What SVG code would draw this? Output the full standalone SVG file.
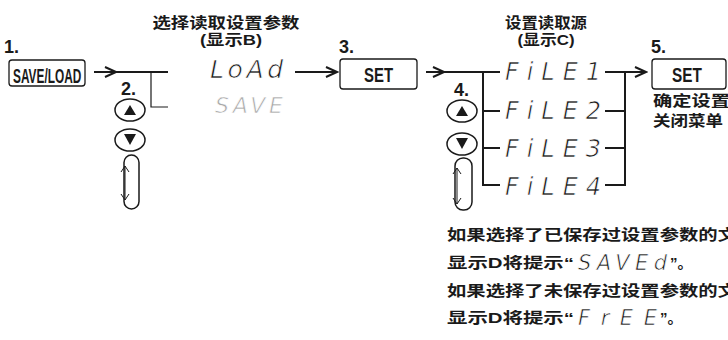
<svg xmlns="http://www.w3.org/2000/svg" width="728" height="340" viewBox="0 0 728 340">
<defs>
<style>
.num{font-family:"Liberation Sans",Arial,sans-serif;font-weight:bold;font-size:18px;fill:#1a1a1a}
.cjk{font-family:"Liberation Sans","Noto Sans CJK SC",sans-serif;font-weight:bold;font-size:15px;fill:#1a1a1a}
.key{font-family:"Liberation Sans",Arial,sans-serif;font-weight:bold;font-size:21px;fill:#1a1a1a}
.seg{font-family:"DejaVu Sans",sans-serif;font-weight:200;font-style:italic;fill:#1a1a1a;stroke:#fff;stroke-width:0.7}
.segg{font-family:"DejaVu Sans",sans-serif;font-weight:200;font-style:italic;fill:#a8a8a8;stroke:#fff;stroke-width:0.7}
.box{fill:#fff;stroke:#1a1a1a;stroke-width:1.3}
.btn{fill:#fff;stroke:#1a1a1a;stroke-width:1.5}
.tri{fill:#1a1a1a}
.thick{fill:none;stroke:#1a1a1a;stroke-width:2}
.thin{fill:none;stroke:#1a1a1a;stroke-width:1.2}
.dbl{fill:none;stroke:#1a1a1a;stroke-width:1}
</style>
<marker id="ah" markerWidth="14" markerHeight="12" refX="12" refY="6" orient="auto" markerUnits="userSpaceOnUse">
<path d="M1,1 L12,6 L1,11" fill="none" stroke="#1a1a1a" stroke-width="2"/>
</marker>
</defs>
<rect width="728" height="340" fill="#fff"/>

<g id="connectors">
<line x1="94" y1="72" x2="116" y2="72" class="thick" marker-end="url(#ah)"/>
<line x1="115" y1="72" x2="168" y2="72" class="thick"/>
<polyline points="151,72 151,107 168,107" class="thin"/>
<line x1="295" y1="72" x2="337" y2="72" class="thick" marker-end="url(#ah)"/>
<line x1="426" y1="72" x2="444" y2="72" class="thick" marker-end="url(#ah)"/>
<line x1="443" y1="72" x2="500" y2="72" class="thick"/>
<line x1="483" y1="72" x2="483" y2="186" class="thick"/>
<line x1="482" y1="111" x2="500" y2="111" class="thick"/>
<line x1="482" y1="148" x2="500" y2="148" class="thick"/>
<line x1="482" y1="185" x2="500" y2="185" class="thick"/>
<line x1="605" y1="72" x2="626" y2="72" class="thick"/>
<line x1="605" y1="111" x2="626" y2="111" class="thick"/>
<line x1="605" y1="148" x2="626" y2="148" class="thick"/>
<line x1="605" y1="185" x2="626" y2="185" class="thick"/>
<line x1="625" y1="71" x2="625" y2="186" class="thick"/>
<line x1="624" y1="72" x2="646" y2="72" class="thick" marker-end="url(#ah)"/>
</g>

<g id="step1">
<text x="4" y="53" class="num">1.</text>
<rect x="9" y="60" width="76" height="26" rx="3" class="box"/>
<text transform="translate(13,83) scale(0.565,1)" class="key">SAVE/LOAD</text>
</g>

<g id="step2">
<text x="121" y="95" class="num">2.</text>
<ellipse cx="130" cy="110" rx="15" ry="11" class="btn"/>
<polygon points="124,115 136,115 130,105" class="tri"/>
<ellipse cx="130" cy="140" rx="15" ry="11" class="btn"/>
<polygon points="124,134 136,134 130,145" class="tri"/>
<rect x="124" y="155" width="15" height="54" rx="7.5" class="btn"/>
<line x1="125" y1="166" x2="125" y2="200" class="dbl"/>
<polyline points="121,172 125,166 129,172" class="dbl"/>
<polyline points="121,194 125,200 129,194" class="dbl"/>
</g>

<g id="titleB">
<text x="226" y="28" class="cjk" text-anchor="middle" textLength="147" lengthAdjust="spacingAndGlyphs">选择读取设置参数</text>
<text x="231" y="45" class="cjk" text-anchor="middle" textLength="62" lengthAdjust="spacingAndGlyphs">(显示B)</text>
</g>

<g id="displayB">
<text x="210" y="78" class="seg" font-size="25" textLength="73" lengthAdjust="spacing">LoAd</text>
<text x="215" y="113" class="segg" font-size="22" textLength="68" lengthAdjust="spacing">SAVE</text>
</g>

<g id="step3">
<text x="339" y="53" class="num">3.</text>
<rect x="340" y="59" width="77" height="30" rx="3" class="box"/>
<text transform="translate(378.5,82) scale(0.71,1)" class="key" text-anchor="middle">SET</text>
</g>

<g id="titleC">
<text x="546" y="28" class="cjk" text-anchor="middle" textLength="82" lengthAdjust="spacingAndGlyphs">设置读取源</text>
<text x="546" y="45" class="cjk" text-anchor="middle" textLength="57" lengthAdjust="spacingAndGlyphs">(显示C)</text>
</g>

<g id="step4">
<text x="454" y="96" class="num">4.</text>
<ellipse cx="462" cy="111" rx="15" ry="11" class="btn"/>
<polygon points="456,116 468,116 462,106" class="tri"/>
<ellipse cx="462" cy="144" rx="15" ry="11" class="btn"/>
<polygon points="456,138 468,138 462,149" class="tri"/>
<rect x="455" y="158" width="17" height="52" rx="8" class="btn"/>
<line x1="457" y1="168" x2="457" y2="204" class="dbl"/>
<polyline points="453,174 457,168 461,174" class="dbl"/>
<polyline points="453,198 457,204 461,198" class="dbl"/>
</g>

<g id="displayC">
<text x="505" y="80" class="seg" font-size="24" textLength="96" lengthAdjust="spacing">FiLE1</text>
<text x="505" y="119" class="seg" font-size="24" textLength="96" lengthAdjust="spacing">FiLE2</text>
<text x="505" y="157" class="seg" font-size="24" textLength="96" lengthAdjust="spacing">FiLE3</text>
<text x="505" y="195" class="seg" font-size="24" textLength="96" lengthAdjust="spacing">FiLE4</text>
</g>

<g id="step5">
<text x="651" y="53" class="num">5.</text>
<rect x="652" y="59" width="74" height="30" rx="3" class="box"/>
<text transform="translate(687,82) scale(0.73,1)" class="key" text-anchor="middle">SET</text>
<text x="653" y="106" class="cjk" font-size="16" textLength="77" lengthAdjust="spacingAndGlyphs">确定设置</text>
<text x="653" y="126" class="cjk" font-size="16" textLength="70" lengthAdjust="spacingAndGlyphs">关闭菜单</text>
</g>

<g id="notes">
<text x="447" y="240" class="cjk" font-size="16" textLength="290" lengthAdjust="spacingAndGlyphs">如果选择了已保存过设置参数的文</text>
<text x="447" y="268" class="cjk" font-size="16" textLength="127" lengthAdjust="spacingAndGlyphs">显示D将提示“</text>
<text x="578" y="270" class="seg" font-size="21" textLength="89" lengthAdjust="spacing">SAVEd</text>
<text x="670" y="268" class="cjk" font-size="16">”。</text>
<text x="447" y="296" class="cjk" font-size="16" textLength="290" lengthAdjust="spacingAndGlyphs">如果选择了未保存过设置参数的文</text>
<text x="447" y="323" class="cjk" font-size="16" textLength="127" lengthAdjust="spacingAndGlyphs">显示D将提示“</text>
<text x="578" y="325" class="seg" font-size="21" textLength="79" lengthAdjust="spacing">FrEE</text>
<text x="660" y="323" class="cjk" font-size="16">”。</text>
</g>
</svg>
